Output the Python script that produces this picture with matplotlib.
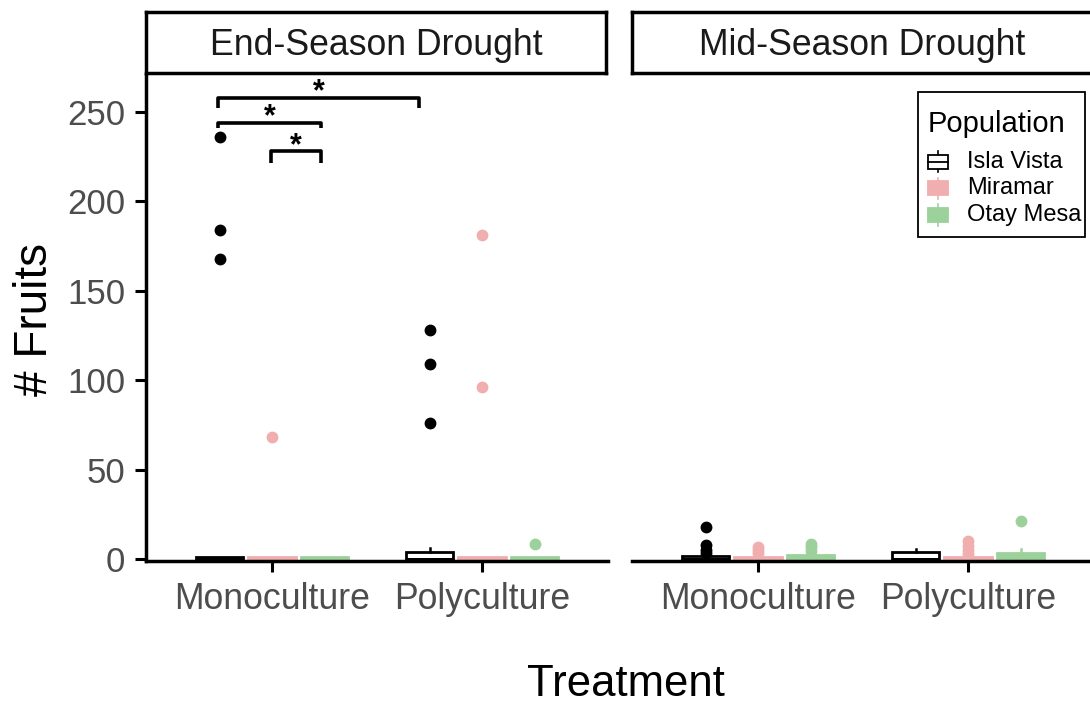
import matplotlib.pyplot as plt
from matplotlib.patches import Patch, Rectangle
from matplotlib.lines import Line2D

plt.rcParams['font.family'] = ['Liberation Sans', 'DejaVu Sans']

panels = ["End-Season Drought", "Mid-Season Drought"]
treatments = ["Monoculture", "Polyculture"]
populations = ["Isla Vista", "Miramar", "Otay Mesa"]
colors = {"Isla Vista": "black", "Miramar": "#F1AEAE", "Otay Mesa": "#9DD19B"}
fills = {"Isla Vista": "white", "Miramar": "#F1AEAE", "Otay Mesa": "#9DD19B"}

# box stats per panel, population -> [Monoculture, Polyculture]
end_q3 = {"Isla Vista": [1.2, 4], "Miramar": [1, 1], "Otay Mesa": [1, 1]}
end_whishi = {"Isla Vista": [1.2, 6], "Miramar": [1, 1], "Otay Mesa": [1, 1]}
end_fliers = {"Isla Vista": [[236, 184, 168], [128, 109, 76]],
              "Miramar": [[68], [181, 96]],
              "Otay Mesa": [[], [8.5]]}

mid_q3 = {"Isla Vista": [1.5, 4], "Miramar": [1, 1], "Otay Mesa": [2, 3.3]}
mid_whishi = {"Isla Vista": [3, 5.5], "Miramar": [2, 2], "Otay Mesa": [3.5, 5.5]}
mid_fliers = {"Isla Vista": [[18, 8, 5, 3.5], []],
              "Miramar": [[6.5, 5, 3.5], [10, 7.5, 5, 3]],
              "Otay Mesa": [[8.5, 6.5, 4.5], [21]]}

stats = {panels[0]: (end_q3, end_whishi, end_fliers),
         panels[1]: (mid_q3, mid_whishi, mid_fliers)}

# significance brackets (left panel): x start, x end, y, tip depth
brackets = [(0.745, 1.70, 258, 5.5), (0.745, 1.235, 244, 3), (0.995, 1.235, 228, 6.5)]


class BoxKey:
    # ggplot-like boxplot legend key
    def legend_artist(self, legend, orig_handle, fontsize, handlebox):
        x0, y0 = handlebox.xdescent, handlebox.ydescent
        w, h = handlebox.width, handlebox.height
        ec = orig_handle.get_edgecolor()
        fc = orig_handle.get_facecolor()
        tr = handlebox.get_transform()
        vl = Line2D([x0 + w / 2, x0 + w / 2], [y0 - 0.25 * h, y0 + 1.25 * h],
                    color=ec, linewidth=1.2, transform=tr)
        rect = Rectangle((x0, y0), w, h, facecolor=fc, edgecolor=ec,
                         linewidth=1.3, transform=tr)
        ml = Line2D([x0, x0 + w], [y0 + h / 2, y0 + h / 2], color=ec,
                    linewidth=1.3, transform=tr)
        for a in (vl, rect, ml):
            handlebox.add_artist(a)
        return rect


fig = plt.figure(figsize=(10.9, 7.06), dpi=100)
W, H = 1090, 706
offsets = [-0.25, 0, 0.25]

for i, panel in enumerate(panels):
    x0 = 146 if i == 0 else 632
    ax = fig.add_axes([x0 / W, 1 - 561 / H, 462 / W, 486 / H])
    q3, whi, fl = stats[panel]
    for p, off in zip(populations, offsets):
        bs = []
        for t in range(len(treatments)):
            bs.append(dict(med=0, q1=0, q3=q3[p][t], whislo=0, whishi=whi[p][t],
                           fliers=fl[p][t]))
        pos = [t + 1 + off for t in range(len(treatments))]
        c = colors[p]
        ax.bxp(bs, positions=pos, widths=0.225, showcaps=False, patch_artist=True,
               boxprops=dict(facecolor=fills[p], edgecolor=c, linewidth=2),
               whiskerprops=dict(color=c, linewidth=1.8),
               medianprops=dict(color=c, linewidth=2),
               flierprops=dict(marker='o', markerfacecolor=c, markeredgecolor=c,
                               markersize=7.5))
    ax.set_xlim(0.4, 2.6)
    ax.set_ylim(-1.1, 270.7)
    ax.set_xticks([1, 2])
    ax.set_xticklabels(treatments, fontsize=25.7, color='#4D4D4D')
    ax.tick_params(axis='x', length=8, width=2.2, pad=7)
    for s in ['top', 'right']:
        ax.spines[s].set_visible(False)
    ax.spines['bottom'].set_linewidth(2.5)
    ax.spines['left'].set_linewidth(2.5)
    if i == 0:
        ax.set_yticks([0, 50, 100, 150, 200, 250])
        ax.tick_params(axis='y', length=8, width=2.2, pad=7, labelsize=25,
                       labelcolor='#4D4D4D')
        for xa, xb, y, d in brackets:
            ax.plot([xa, xa, xb, xb], [y - d, y, y, y - d], color='black',
                    linewidth=2.6, solid_capstyle='butt', clip_on=False)
            ax.text((xa + xb) / 2, y - 1.5, '*', ha='center', va='baseline',
                    fontsize=22, fontweight='bold')
    else:
        ax.spines['left'].set_visible(False)
        ax.set_yticks([])
        handles = [Patch(facecolor=fills[p], edgecolor=colors[p]) for p in populations]
        leg = ax.legend(handles, populations, title="Population", loc='upper left',
                        bbox_to_anchor=(928 / W, 1 - 110 / H),
                        bbox_transform=fig.transFigure, fontsize=17,
                        title_fontsize=21, frameon=False,
                        borderaxespad=0, handlelength=0.85, handleheight=0.55,
                        handletextpad=0.8, labelspacing=0.2, borderpad=0,
                        handler_map={Patch: BoxKey()})
        leg._legend_box.align = "left"
        leg._legend_box.sep = 9
        # legend frame
        fig.add_artist(Rectangle((918 / W, 1 - 237 / H), 167 / W, 145 / H,
                                 transform=fig.transFigure, fill=False,
                                 edgecolor='black', linewidth=1.3))

    # facet strip
    sx = fig.add_axes([x0 / W, 1 - 73 / H, 460 / W, 61 / H])
    sx.set_xticks([])
    sx.set_yticks([])
    for s in sx.spines.values():
        s.set_linewidth(2.5)
    sx.text(0.5, 0.45, panel, ha='center', va='center', fontsize=25.7,
            color='#1A1A1A', transform=sx.transAxes)

fig.text(626 / W, 1 - 685 / H, "Treatment", ha='center', va='center', fontsize=31.5)
fig.text(35 / W, 1 - 320 / H, "# Fruits", ha='center', va='center', fontsize=33,
         rotation=90)

fig.savefig("out.png", dpi=100)
